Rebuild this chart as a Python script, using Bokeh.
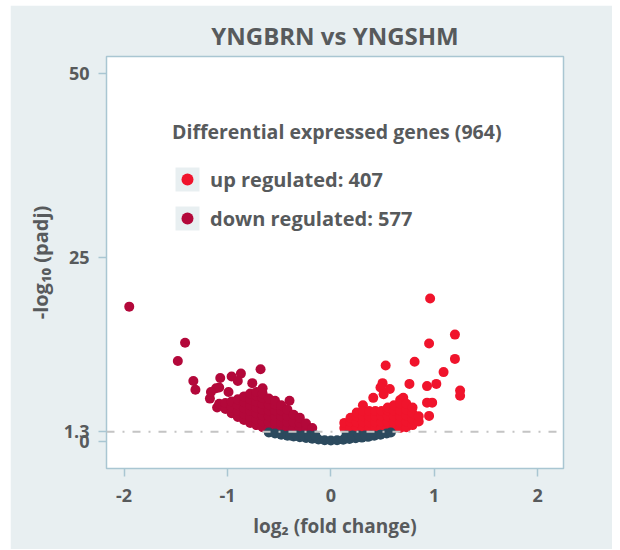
from bokeh.plotting import figure
from bokeh.models import Span, Legend, LegendItem, FixedTicker, Range1d, ColumnDataSource
from bokeh.embed import file_html
from bokeh.resources import INLINE

# ---------------- texts ----------------
title_text = "YNGBRN vs YNGSHM"
x_label = "log\u2082 (fold change)"
y_label = "-log\u2081\u2080 (padj)"
legend_title = "Differential expressed genes (964)"
up_label = "up regulated: 407"
down_label = "down regulated: 577"

x_ticks = [-2, -1, 0, 1, 2]
x_tick_labels = ["-2", "-1", "0", "1", "2"]
y_ticks = [0, 1.3, 25, 50]
y_tick_labels = ["0", "1.3", "25", "50"]
padj_threshold = 1.3

# ---------------- data (log2 fold change, -log10 padj) ----------------
down_points = [
    (-1.95, 18.3), (-1.41, 13.4), (-1.48, 10.9), (-1.33, 8.2), (-1.31, 7.0),
    (-1.07, 8.6), (-1.17, 5.8), (-1.11, 7.2), (-1.08, 7.3), (-0.96, 8.8),
    (-0.87, 9.2), (-0.90, 8.2), (-0.68, 9.8), (-0.76, 7.9), (-0.99, 6.7),
    (-1.10, 4.6), (-0.40, 5.5), (-0.66, 7.2), (-1.16, 6.7),
    (-1.08, 5.1),
    (-1.02, 4.4), (-1.02, 5.2),
    (-0.96, 3.8), (-0.96, 4.6), (-0.96, 5.4),
    (-0.90, 3.3), (-0.90, 4.1), (-0.90, 4.9), (-0.90, 5.7),
    (-0.84, 2.9), (-0.84, 3.7), (-0.84, 4.5), (-0.84, 5.3), (-0.84, 6.1),
    (-0.78, 2.5), (-0.78, 3.3), (-0.78, 4.1), (-0.78, 4.9), (-0.78, 5.7), (-0.78, 6.5),
    (-0.72, 2.2), (-0.72, 3.0), (-0.72, 3.8), (-0.72, 4.6), (-0.72, 5.4), (-0.72, 6.2), (-0.72, 6.7),
    (-0.66, 1.9), (-0.66, 2.7), (-0.66, 3.5), (-0.66, 4.3), (-0.66, 5.1), (-0.66, 5.9), (-0.66, 6.5),
    (-0.60, 1.8), (-0.60, 2.6), (-0.60, 3.4), (-0.60, 4.2), (-0.60, 5.0), (-0.60, 5.8),
    (-0.54, 1.8), (-0.54, 2.6), (-0.54, 3.4), (-0.54, 4.2), (-0.54, 5.0), (-0.54, 5.5),
    (-0.48, 1.8), (-0.48, 2.6), (-0.48, 3.4), (-0.48, 4.2), (-0.48, 4.9),
    (-0.42, 1.8), (-0.42, 2.6), (-0.42, 3.4), (-0.42, 4.3),
    (-0.36, 1.8), (-0.36, 2.6), (-0.36, 3.6),
    (-0.30, 1.8), (-0.30, 2.5), (-0.30, 3.2),
    (-0.24, 1.8), (-0.24, 2.4),
    (-0.18, 1.8),
]

up_points = [
    (0.96, 19.4), (1.20, 14.5), (0.95, 13.3), (1.20, 11.2), (0.53, 10.3),
    (0.81, 10.8), (1.09, 9.4), (0.76, 7.8), (0.93, 7.5), (1.02, 7.8),
    (1.25, 6.9), (1.25, 6.2), (0.50, 7.9), (0.48, 7.3), (0.57, 7.1),
    (0.41, 5.9), (0.51, 6.4), (0.31, 4.9), (0.93, 5.25), (0.98, 5.25),
    (0.95, 3.45), (0.70, 5.9), (0.67, 5.6),
    (0.13, 1.8), (0.13, 2.5),
    (0.19, 1.8), (0.19, 2.6), (0.19, 3.2),
    (0.25, 1.8), (0.25, 2.6), (0.25, 3.4), (0.25, 3.9),
    (0.31, 1.8), (0.31, 2.6), (0.31, 3.4), (0.31, 4.1),
    (0.37, 1.8), (0.37, 2.6), (0.37, 3.4), (0.37, 4.1),
    (0.43, 1.8), (0.43, 2.6), (0.43, 3.4), (0.43, 4.1),
    (0.49, 1.8), (0.49, 2.6), (0.49, 3.4), (0.49, 4.1),
    (0.55, 1.8), (0.55, 2.6), (0.55, 3.4), (0.55, 4.2), (0.55, 4.6),
    (0.61, 1.8), (0.61, 2.6), (0.61, 3.4), (0.61, 4.2), (0.61, 4.9),
    (0.67, 1.8), (0.67, 2.6), (0.67, 3.4), (0.67, 4.2), (0.67, 5.1),
    (0.73, 1.9), (0.73, 2.7), (0.73, 3.5), (0.73, 4.3), (0.73, 5.1),
    (0.79, 2.2), (0.79, 3.0), (0.79, 3.8), (0.79, 4.6),
    (0.85, 2.7), (0.85, 3.4),
]

ns_points = [
    (-0.60, 1.20), (-0.54, 1.05), (-0.48, 0.90), (-0.42, 0.75), (-0.36, 0.65),
    (-0.30, 0.55), (-0.24, 0.45), (-0.18, 0.35), (-0.12, 0.25), (-0.06, 0.15),
    (0.00, 0.10), (0.06, 0.15), (0.12, 0.20), (0.18, 0.30), (0.24, 0.40),
    (0.30, 0.50), (0.36, 0.60), (0.42, 0.75), (0.48, 0.90), (0.54, 1.05),
    (0.58, 1.20),
    (-0.39, 0.80), (-0.33, 0.80), (-0.27, 0.80), (-0.21, 0.80), (-0.15, 0.80),
    (0.15, 0.80), (0.21, 0.80), (0.27, 0.80), (0.33, 0.80), (0.39, 0.80),
]

# ---------------- style ----------------
PANEL = "#e8eff1"
TEXT = "#575a5c"
FRAME = "#a9c6d2"
UP = "#f0142c"
DOWN = "#b3083a"
NS = "#2c4a5e"
FONT = "Open Sans"

p = figure(width=602, height=544, output_backend="svg", toolbar_location=None,
           x_range=Range1d(-2.17, 2.25), y_range=Range1d(-3.7, 52.3),
           min_border_left=96, min_border_top=51, min_border_right=49,
           min_border_bottom=81)
p.margin = (5, 0, 0, 10)

p.background_fill_color = "white"
p.border_fill_color = PANEL
p.outline_line_color = FRAME
p.outline_line_width = 1.5
p.grid.visible = False

p.title.text = title_text
p.title.align = "center"
p.title.text_font = FONT
p.title.text_font_size = "24px"
p.title.text_font_style = "bold"
p.title.text_color = TEXT
p.title.standoff = 10

def src(points):
    return ColumnDataSource(dict(x=[q[0] for q in points], y=[q[1] for q in points]))

r_down = p.scatter("x", "y", source=src(down_points), size=10, fill_color=DOWN, line_color=None)
r_up = p.scatter("x", "y", source=src(up_points), size=10, fill_color=UP, line_color=None)
r_ns = p.scatter("x", "y", source=src(ns_points), size=10, fill_color=NS, line_color=None)

p.add_layout(Span(location=padj_threshold, dimension="width", line_color="#c4c4c4",
                  line_width=2, line_dash="8 8 2 8"))

# axes
p.xaxis.ticker = FixedTicker(ticks=x_ticks)
p.xaxis.major_label_overrides = dict(zip(x_ticks, x_tick_labels))
p.yaxis.ticker = FixedTicker(ticks=y_ticks)
p.yaxis.major_label_overrides = dict(zip(y_ticks, y_tick_labels))
p.xaxis.axis_label = x_label
p.yaxis.axis_label = y_label
for ax in (p.xaxis, p.yaxis):
    ax.axis_line_color = None
    ax.major_tick_line_color = FRAME
    ax.major_tick_line_width = 1.5
    ax.major_tick_in = 0
    ax.major_tick_out = 8
    ax.minor_tick_line_color = None
    ax.major_label_text_font = FONT
    ax.major_label_text_font_style = "bold"
    ax.major_label_text_font_size = "18px"
    ax.major_label_text_color = TEXT
    ax.axis_label_text_font = FONT
    ax.axis_label_text_font_style = "bold"
    ax.axis_label_text_color = TEXT
p.xaxis.axis_label_text_font_size = "19px"
p.yaxis.axis_label_text_font_size = "20px"
p.xaxis.major_label_standoff = 12
p.xaxis.axis_label_standoff = 8
p.yaxis.major_label_standoff = 9
p.yaxis.axis_label_standoff = 7

# legend (swatch square sits outside the visible ranges; used only as legend backdrop)
swatch = p.quad(left=[-9.0], right=[-8.9], top=[-9.0], bottom=[-9.1],
                fill_color=PANEL, line_color=None)
legend = Legend(
    items=[LegendItem(label=up_label, renderers=[swatch, r_up]),
           LegendItem(label=down_label, renderers=[swatch, r_down])],
    title=legend_title, location=(66, 235), margin=0, padding=0,
    glyph_width=30, glyph_height=30, spacing=9, label_standoff=8,
    label_text_font=FONT, label_text_font_style="bold", label_text_font_size="20px",
    label_text_color=TEXT, title_text_font=FONT, title_text_font_style="bold",
    title_text_font_size="19.5px", title_text_color=TEXT, title_standoff=19,
    background_fill_alpha=0, border_line_color=None,
)
p.add_layout(legend)

open("out.html", "w").write(file_html(p, INLINE))
